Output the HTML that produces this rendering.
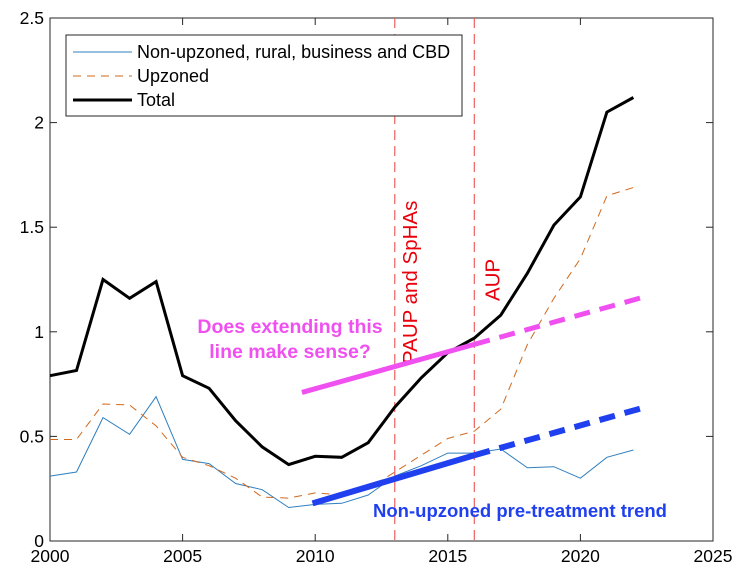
<!DOCTYPE html>
<html><head><meta charset="utf-8"><style>
body{margin:0;background:#fff}
svg text{font-family:"Liberation Sans",Arial,sans-serif}
</style></head><body>
<svg id="chart" width="742" height="583" xmlns="http://www.w3.org/2000/svg"></svg>
<script>
const years=[2000,2001,2002,2003,2004,2005,2006,2007,2008,2009,2010,2011,2012,2013,2014,2015,2016,2017,2018,2019,2020,2021,2022];
const nonUpzoned=[0.31,0.33,0.59,0.51,0.69,0.39,0.37,0.275,0.245,0.16,0.175,0.18,0.22,0.31,0.36,0.42,0.42,0.44,0.35,0.355,0.30,0.40,0.435];
const upzoned=[0.485,0.485,0.655,0.65,0.55,0.40,0.36,0.30,0.21,0.205,0.23,0.22,0.25,0.33,0.41,0.49,0.525,0.63,0.94,1.16,1.35,1.65,1.69];
const total=[0.79,0.815,1.25,1.16,1.24,0.79,0.73,0.575,0.45,0.365,0.405,0.40,0.47,0.64,0.78,0.90,0.97,1.08,1.28,1.51,1.645,2.05,2.12];
const xTicks=[2000,2005,2010,2015,2020,2025];
const yTicks=[0,0.5,1,1.5,2,2.5];
const yTickLabels=["0","0.5","1","1.5","2","2.5"];
const magentaTrend=[[2009.5,0.71],[2016,0.94],[2022.5,1.17]];
const blueTrend=[[2009.9,0.18],[2016,0.41],[2022.6,0.645]];
const events=[2013,2016];

const svg=document.getElementById('chart');
const NS='http://www.w3.org/2000/svg';
const X0=50,X1=713,Y0=541,Y1=18;
const xs=v=>X0+(v-2000)/25*(X1-X0);
const ys=v=>Y0-v/2.5*(Y0-Y1);
function mk(tag,attrs,parent){const e=document.createElementNS(NS,tag);for(const k in attrs)e.setAttribute(k,attrs[k]);(parent||svg).appendChild(e);return e;}

const box=mk('rect',{x:X0,y:Y1,width:X1-X0,height:Y0-Y1,fill:'none',stroke:'#262626','stroke-width':1});


xTicks.forEach(t=>{
  const l=mk('line',{x1:xs(t),x2:xs(t),y1:Y0,y2:Y0-7,stroke:'#262626'});
  
  
  mk('line',{x1:xs(t),x2:xs(t),y1:Y1,y2:Y1+7,stroke:'#262626'});
  const tx=mk('text',{x:xs(t),y:Y0+21,'text-anchor':'middle','font-size':17.5,fill:'#000'});
  tx.textContent=t;
  
  
});
yTicks.forEach((t,i)=>{
  const l=mk('line',{x1:X0,x2:X0+7,y1:ys(t),y2:ys(t),stroke:'#262626'});
  
  
  mk('line',{x1:X1,x2:X1-7,y1:ys(t),y2:ys(t),stroke:'#262626'});
  const tx=mk('text',{x:X0-6,y:ys(t)+6,'text-anchor':'end','font-size':17.5,fill:'#000'});
  tx.textContent=yTickLabels[i];
  
  
});

events.forEach((e,i)=>{
  const l=mk('line',{x1:xs(e),x2:xs(e),y1:Y1,y2:Y0,stroke:'#f06060','stroke-width':1.2,'stroke-dasharray':'10,6'});
  
  
});
const t1=mk('text',{x:0,y:0,'font-size':20.5,fill:'#e8000b',transform:`translate(${xs(2013)+22},364) rotate(-90)`});
t1.textContent='PAUP and SpHAs';


const t2=mk('text',{x:0,y:0,'font-size':20.5,fill:'#e8000b',transform:`translate(${xs(2016)+25},301) rotate(-90)`});
t2.textContent='AUP';



function series(vals,attrs,name){
  const d=vals.map((v,i)=>(i?'L':'M')+xs(years[i]).toFixed(1)+','+ys(v).toFixed(1)).join('');
  const p=mk('path',Object.assign({d:d,fill:'none','stroke-linejoin':'miter'},attrs));
  
  
}
series(nonUpzoned,{stroke:'#2f7fbf','stroke-width':1},'non-upzoned-line');
series(upzoned,{stroke:'#d2691e','stroke-width':1,'stroke-dasharray':'8,6'},'upzoned-line');
series(total,{stroke:'#000','stroke-width':3},'total-line');

function trend(pts,color,name,w){
  const a=mk('line',{x1:xs(pts[0][0]),y1:ys(pts[0][1]),x2:xs(pts[1][0]),y2:ys(pts[1][1]),stroke:color,'stroke-width':w});
  
  
  const b=mk('line',{x1:xs(pts[1][0]),y1:ys(pts[1][1]),x2:xs(pts[2][0]),y2:ys(pts[2][1]),stroke:color,'stroke-width':w,'stroke-dasharray':'16,10'});
  
  
}
trend(magentaTrend,'#f050f0','magenta-trend',5);
trend(blueTrend,'#2040f0','blue-trend',6);

const m1=mk('text',{x:290,y:333,'text-anchor':'middle','font-size':19.5,'font-weight':'bold',fill:'#f050f0'});
m1.textContent='Does extending this';


const m2=mk('text',{x:290,y:358,'text-anchor':'middle','font-size':19.5,'font-weight':'bold',fill:'#f050f0'});
m2.textContent='line make sense?';


const bl=mk('text',{x:520,y:517,'text-anchor':'middle','font-size':18.5,'font-weight':'bold',fill:'#2040f0'});
bl.textContent='Non-upzoned pre-treatment trend';



const lg=mk('g',{});


mk('rect',{x:66,y:35,width:396,height:81,fill:'#fff',stroke:'#262626'},lg);
const entries=[['Non-upzoned, rural, business and CBD',{stroke:'#2f7fbf','stroke-width':1}],['Upzoned',{stroke:'#d2691e','stroke-width':1,'stroke-dasharray':'8,6'}],['Total',{stroke:'#000','stroke-width':3}]];
entries.forEach((en,i)=>{
  const y=52+i*24;
  const g=mk('g',{},lg);
  
  
  mk('line',Object.assign({x1:73,x2:132,y1:y,y2:y},en[1]),g);
  const t=mk('text',{x:137,y:y+6,'font-size':18,fill:'#000'},g);
  t.textContent=en[0];
});
</script>
</body></html>
